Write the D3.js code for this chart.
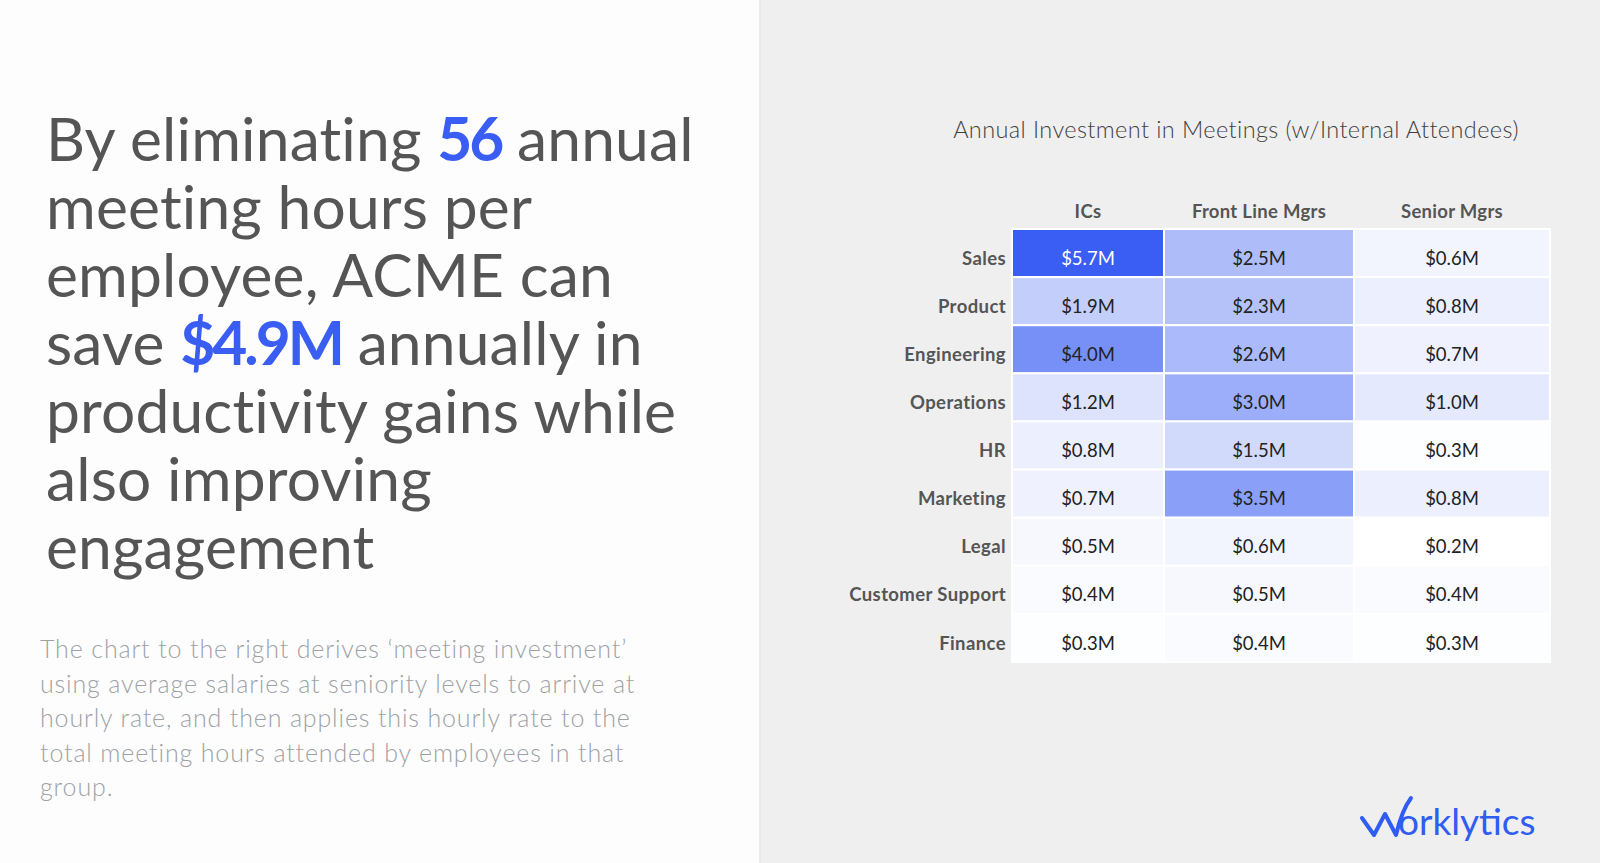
<!DOCTYPE html>
<html>
<head>
<meta charset="utf-8">
<script src="https://cdn.jsdelivr.net/npm/d3@7"></script>
<style>
  html, body { margin: 0; padding: 0; background: #fff; }
  svg { display: block; font-family: Lato, "Noto Sans", sans-serif; }
</style>
</head>
<body>
<svg id="chart" width="1600" height="863"></svg>
<script>
// ---- data ----
var departments = ['Sales', 'Product', 'Engineering', 'Operations', 'HR', 'Marketing', 'Legal', 'Customer Support', 'Finance'];
var levels = ['ICs', 'Front Line Mgrs', 'Senior Mgrs'];
var icsValues = [5.7, 1.9, 4.0, 1.2, 0.8, 0.7, 0.5, 0.4, 0.3];
var frontLineValues = [2.5, 2.3, 2.6, 3.0, 1.5, 3.5, 0.6, 0.5, 0.4];
var seniorValues = [0.6, 0.8, 0.7, 1.0, 0.3, 0.8, 0.2, 0.4, 0.3];
var chartTitle = 'Annual Investment in Meetings (w/Internal Attendees)';
var headlineLines = [
    [['By eliminating ', false], ['56', true], [' annual', false]],
    [['meeting hours per', false]],
    [['employee, ACME can', false]],
    [['save ', false], ['$4.9M', true], [' annually in', false]],
    [['productivity gains while', false]],
    [['also improving', false]],
    [['engagement', false]]
];
var bodyLines = [
    'The chart to the right derives \u2018meeting investment\u2019',
    'using average salaries at seniority levels to arrive at',
    'hourly rate, and then applies this hourly rate to the',
    'total meeting hours attended by employees in that',
    'group.'
];

var seriesByLevel = [icsValues, frontLineValues, seniorValues];

// ---- layout ----
var W = 1600, H = 863;
var panelX = 760;
var colWeights = [152, 190, 196];
var grid = {left: 1012, top: 229, bottom: 662};
var blue = '#3a5ef3';

var svg = d3.select('#chart');

// background panels
svg.append('rect').attr('width', W).attr('height', H).attr('fill', '#fdfdfd');
svg.append('rect').attr('x', panelX).attr('width', W - panelX).attr('height', H).attr('fill', '#efefef');
svg.append('line').attr('x1', panelX).attr('x2', panelX).attr('y1', 0).attr('y2', H)
    .attr('stroke', '#e6e6e6').attr('stroke-width', 1.5);

// headline
var headline = svg.append('g').attr('class', 'headline');
headline.selectAll('text')
    .data(headlineLines)
    .enter()
    .append('text')
    .attr('x', 46)
    .attr('y', function (d, i) { return 161 + i * 68; })
    .attr('font-size', 60.5)
    .attr('fill', '#555555')
    .each(function (segs) {
        var t = d3.select(this);
        segs.forEach(function (s) {
            t.append('tspan')
                .attr('fill', s[1] ? blue : null)
                .attr('font-weight', s[1] ? 700 : 400)
                .attr('letter-spacing', s[1] ? -3 : 0.15)
                .text(s[0]);
        });
    });

// body text
svg.append('g').attr('class', 'body-text')
    .selectAll('text')
    .data(bodyLines)
    .enter()
    .append('text')
    .attr('x', 40)
    .attr('y', function (d, i) { return 658 + i * 34.5; })
    .attr('font-size', 25)
    .attr('letter-spacing', 0.85)
    .attr('font-weight', 300)
    .attr('fill', '#9ea2a6')
    .text(function (d) { return d; });

// chart title
svg.append('text')
    .attr('x', 1236)
    .attr('y', 138)
    .attr('text-anchor', 'middle')
    .attr('font-size', 23.5)
    .attr('letter-spacing', 0.4)
    .attr('font-weight', 300)
    .attr('fill', '#3f3f3f')
    .text(chartTitle);

// scales
var edges = [0];
colWeights.forEach(function (w) { edges.push(edges[edges.length - 1] + w); });
var xEdge = d3.scaleLinear().domain([0, edges[edges.length - 1]]).range([grid.left, grid.left + edges[edges.length - 1]]);
var xLeft = d3.scaleOrdinal().domain(levels).range(edges.slice(0, -1).map(xEdge));
var xWidth = d3.scaleOrdinal().domain(levels).range(colWeights);
var y = d3.scaleBand().domain(departments).range([grid.top, grid.bottom]);
var color = d3.scaleLinear().domain([0.25, 5.7]).range(['#ffffff', blue]).clamp(true);
var fmt = function (v) { return '$' + d3.format('.1f')(v) + 'M'; };

var cells = [];
levels.forEach(function (lvl, li) {
    departments.forEach(function (dep, di) {
        cells.push({level: lvl, dept: dep, value: seriesByLevel[li][di]});
    });
});

var heat = svg.append('g').attr('class', 'heatmap');

heat.selectAll('rect.cell')
    .data(cells)
    .enter()
    .append('rect')
    .attr('class', 'cell')
    .attr('x', function (d) { return xLeft(d.level); })
    .attr('y', function (d) { return y(d.dept); })
    .attr('width', function (d) { return xWidth(d.level); })
    .attr('height', y.bandwidth())
    .attr('fill', function (d) { return color(d.value); })
    .attr('stroke', '#ffffff')
    .attr('stroke-width', 2);

heat.selectAll('text.val')
    .data(cells)
    .enter()
    .append('text')
    .attr('class', 'val')
    .attr('x', function (d) { return xLeft(d.level) + xWidth(d.level) / 2; })
    .attr('y', function (d) { return y(d.dept) + y.bandwidth() / 2 + 5; })
    .attr('dy', '0.36em')
    .attr('text-anchor', 'middle')
    .attr('font-size', 18.5)
    .attr('fill', function (d) { return d.value > 5 ? '#ffffff' : '#222222'; })
    .text(function (d) { return fmt(d.value); });

// column headers
heat.selectAll('text.col')
    .data(levels)
    .enter()
    .append('text')
    .attr('class', 'col')
    .attr('x', function (d) { return xLeft(d) + xWidth(d) / 2; })
    .attr('y', 218)
    .attr('text-anchor', 'middle')
    .attr('font-size', 18.5)
    .attr('letter-spacing', 0.3)
    .attr('font-weight', 700)
    .attr('fill', '#555555')
    .text(function (d) { return d; });

// row labels
heat.selectAll('text.row')
    .data(departments)
    .enter()
    .append('text')
    .attr('class', 'row')
    .attr('x', grid.left - 6)
    .attr('y', function (d) { return y(d) + y.bandwidth() / 2 + 5; })
    .attr('dy', '0.36em')
    .attr('text-anchor', 'end')
    .attr('font-size', 18.5)
    .attr('letter-spacing', 0.4)
    .attr('font-weight', 700)
    .attr('fill', '#555555')
    .text(function (d) { return d; });

// logo
var logo = svg.append('g').attr('class', 'logo').attr('fill', 'none');
logo.append('path')
    .attr('d', 'M1362,818 L1374,835 L1385,814 L1396,835 C1400,818 1405,806 1411,798')
    .attr('stroke', '#2f5cf2')
    .attr('stroke-width', 4)
    .attr('stroke-linejoin', 'round')
    .attr('stroke-linecap', 'round');
logo.append('text')
    .attr('x', 1398)
    .attr('y', 835)
    .attr('font-size', 37)
    .attr('fill', '#2f5cf2')
    .text('orklytics');
</script>
</body>
</html>
